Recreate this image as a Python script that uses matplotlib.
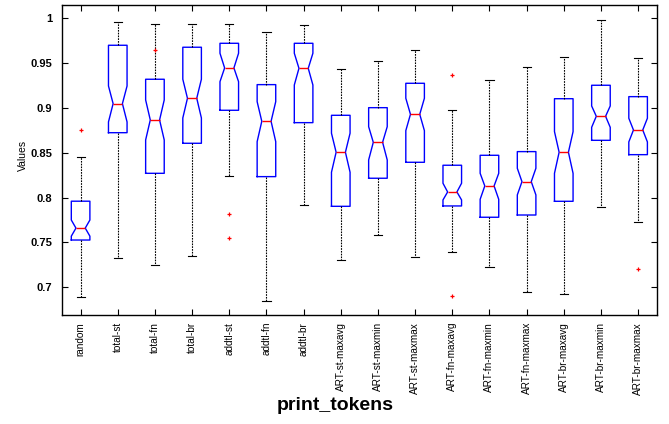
import matplotlib
matplotlib.use("Agg")
import matplotlib.pyplot as plt

plt.rcParams["font.family"] = ["Liberation Sans", "DejaVu Sans"]

labels = ["random", "total-st", "total-fn", "total-br", "addtl-st", "addtl-fn",
          "addtl-br", "ART-st-maxavg", "ART-st-maxmin", "ART-st-maxmax",
          "ART-fn-maxavg", "ART-fn-maxmin", "ART-fn-maxmax", "ART-br-maxavg",
          "ART-br-maxmin", "ART-br-maxmax"]
whislo = [0.6895, 0.733, 0.7249, 0.7346, 0.8245, 0.6847, 0.7915, 0.7305,
          0.758, 0.7335, 0.739, 0.723, 0.6944, 0.6922, 0.7892, 0.7725]
q1 = [0.7527, 0.8724, 0.8271, 0.8606, 0.8974, 0.8234, 0.8836, 0.7903,
      0.8216, 0.8394, 0.7907, 0.7781, 0.7806, 0.7959, 0.8639, 0.8479]
med = [0.766, 0.9048, 0.8866, 0.9108, 0.9446, 0.8851, 0.9442, 0.8506,
       0.8617, 0.8929, 0.8063, 0.813, 0.8178, 0.8506, 0.8907, 0.8754]
q3 = [0.796, 0.9699, 0.932, 0.9677, 0.9721, 0.926, 0.9721, 0.8918,
      0.9003, 0.9275, 0.8361, 0.8472, 0.8513, 0.9103, 0.9253, 0.9126]
whishi = [0.845, 0.9955, 0.994, 0.9933, 0.9933, 0.9844, 0.9925, 0.9431,
          0.952, 0.965, 0.8981, 0.9312, 0.9454, 0.9568, 0.9984, 0.9561]
cilo = [0.757, 0.8844, 0.8643, 0.8888, 0.9293, 0.8624, 0.9256, 0.8283,
        0.842, 0.8747, 0.7974, 0.7981, 0.803, 0.8271, 0.8784, 0.8621]
cihi = [0.775, 0.9245, 0.9089, 0.932, 0.961, 0.907, 0.961, 0.8718,
        0.8791, 0.9108, 0.816, 0.8271, 0.8327, 0.8736, 0.9022, 0.8885]
fliers = [[0.8754], [], [0.9646], [], [0.7814, 0.7547], [], [], [],
          [], [], [0.9368, 0.69], [], [], [], [], [0.7204]]

yticks = [0.7, 0.75, 0.8, 0.85, 0.9, 0.95, 1.0]
ytick_labels = ["0.7", "0.75", "0.8", "0.85", "0.9", "0.95", "1"]

stats = []
for i in range(len(labels)):
    stats.append(dict(label=labels[i], whislo=whislo[i], q1=q1[i], med=med[i],
                      q3=q3[i], whishi=whishi[i], cilo=cilo[i], cihi=cihi[i],
                      fliers=fliers[i]))

fig = plt.figure(figsize=(6.69, 4.24), dpi=100)
ax = fig.add_axes([0.0927, 0.2571, 0.8889, 0.7311])

positions = list(range(1, len(labels) + 1))
ax.bxp(stats, positions=positions, widths=0.5, capwidths=0.22,
       shownotches=True,
       boxprops=dict(color="blue", linewidth=1.0),
       medianprops=dict(color="red", linewidth=1.0),
       whiskerprops=dict(color="black", linewidth=0.8, linestyle=(0, (1.5, 1))),
       capprops=dict(color="black", linewidth=0.8),
       flierprops=dict(marker="+", markeredgecolor="red", markersize=3.5,
                       markeredgewidth=0.9, linestyle="none"))

ax.set_xlim(0.5, 16.5)
ax.set_ylim(0.6691, 1.0148)
ax.set_yticks(yticks)
ax.set_yticklabels(ytick_labels, fontsize=8, fontweight="bold")
ax.set_xticks(positions)
ax.set_xticklabels(labels, rotation=90, fontsize=7.2)
ax.tick_params(axis="both", direction="in", length=4, top=True, right=True,
               width=0.8)
ax.tick_params(axis="y", pad=7)
ax.tick_params(axis="x", pad=5)
for s in ax.spines.values():
    s.set_linewidth(1.0)

ax.set_ylabel("Values", fontsize=7.5)
ax.yaxis.set_label_coords(-0.057, 0.516)

fig.text(335 / 669, 1 - 410 / 424, "print_tokens", fontsize=14,
         fontweight="bold", ha="center", va="baseline")

fig.savefig("out.png", dpi=100)
